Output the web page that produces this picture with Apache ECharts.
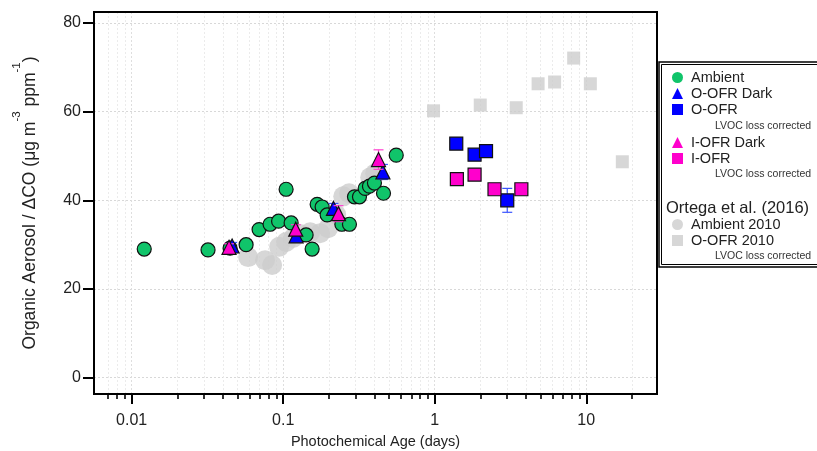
<!DOCTYPE html>
<html><head><meta charset="utf-8">
<script src="https://cdn.jsdelivr.net/npm/echarts@6/dist/echarts.min.js"></script>
<style>html,body{margin:0;padding:0;background:#fff}#c{width:817px;height:451px}</style>
</head><body><div id="c"></div>
<script>
// ---- axis ticks ----
const xMajorTicks = [0.01, 0.1, 1, 10];
const xMinorTicks = [0.007, 0.008, 0.009, 0.02, 0.03, 0.04, 0.05, 0.06, 0.07, 0.08, 0.09,
  0.2, 0.3, 0.4, 0.5, 0.6, 0.7, 0.8, 0.9, 2, 3, 4, 5, 6, 7, 8, 9, 20];
const yTicks = [0, 20, 40, 60, 80];

// ---- Ambient (this study) ----
const ambientAge = [0.0121, 0.0319, 0.0446, 0.0569, 0.0693, 0.0819, 0.0932, 0.1045, 0.1128, 0.1416,
  0.1552, 0.1675, 0.1807, 0.195, 0.2438, 0.2736, 0.2953, 0.3186, 0.3475, 0.3708, 0.40, 0.459, 0.557];
const ambientRatio = [29.0, 28.8, 29.2, 30.0, 33.4, 34.6, 35.3, 42.5, 34.9, 32.2,
  29.0, 39.1, 38.5, 36.7, 34.6, 34.6, 40.8, 40.8, 42.7, 43.2, 43.9, 41.6, 50.2];

// ---- O-OFR Dark ----
const oofrDarkAge = [0.046, 0.1217, 0.2146, 0.455];
const oofrDarkRatio = [29.7, 32.0, 38.2, 46.4];
const oofrDarkErr = [0.8, 1.0, 1.1, 1.7];

// ---- I-OFR Dark ----
const iofrDarkAge = [0.0439, 0.121, 0.2316, 0.4255];
const iofrDarkRatio = [29.4, 33.5, 37.0, 49.2];
const iofrDarkErr = [0.8, 1.0, 1.8, 2.2];

// ---- O-OFR (LVOC loss corrected) ----
const oofrAge = [1.387, 1.832, 2.18, 3.01];
const oofrRatio = [52.8, 50.3, 51.1, 40.0];
const oofrErr = [0, 0, 0, 2.7];

// ---- I-OFR (LVOC loss corrected) ----
const iofrAge = [1.40, 1.832, 2.48, 3.73];
const iofrRatio = [44.8, 45.8, 42.5, 42.5];

// ---- Ortega et al. (2016) ----
const amb2010Age = [0.0587, 0.0759, 0.0845, 0.094, 0.1045, 0.1162, 0.1294, 0.1506, 0.1753, 0.198,
  0.2236, 0.249, 0.2723, 0.375, 0.405];
const amb2010Ratio = [27.2, 26.5, 25.4, 29.5, 30.6, 31.5, 32.4, 32.8, 32.6, 33.7,
  36.8, 40.9, 41.6, 45.2, 46.1];
const oofr2010Age = [0.982, 1.997, 3.45, 4.81, 6.18, 8.26, 10.64, 17.3];
const oofr2010Ratio = [60.2, 61.5, 60.9, 66.3, 66.7, 72.1, 66.3, 48.7];

// ---- styling ----
const FONT = 'Liberation Sans, Arial, sans-serif';
const GREEN = '#10c46a', BLUE = '#0000ff', MAGENTA = '#ff00cc', GREY = '#cdcdcd';
const X_MIN = 0.00564, X_MAX = 29.3, Y_MIN = -3.7, Y_MAX = 82.5;
const GRID = { left: 94, top: 12, right: 160, bottom: 57 };
const W = 817, H = 451;

const pairs = (xs, ys) => xs.map((x, i) => [x, ys[i]]);

function errSeries(ages, vals, errs, color, z) {
  const data = [];
  ages.forEach((a, i) => { if (errs[i] > 0) data.push([a, vals[i] - errs[i], vals[i] + errs[i]]); });
  return {
    type: 'custom', z: z, silent: true, data: data,
    encode: { x: 0, y: [1, 2] },
    renderItem(params, api) {
      const x = api.value(0);
      const lo = api.coord([x, api.value(1)]);
      const hi = api.coord([x, api.value(2)]);
      const w = 5;
      const st = { stroke: color, lineWidth: 1.2 };
      return { type: 'group', children: [
        { type: 'line', shape: { x1: lo[0], y1: lo[1], x2: hi[0], y2: hi[1] }, style: st },
        { type: 'line', shape: { x1: lo[0] - w, y1: lo[1], x2: lo[0] + w, y2: lo[1] }, style: st },
        { type: 'line', shape: { x1: hi[0] - w, y1: hi[1], x2: hi[0] + w, y2: hi[1] }, style: st }
      ]};
    }
  };
}

const legendRows = [
  { name: 'Ambient', y: 78 },
  { name: 'O-OFR Dark', y: 94 },
  { name: 'O-OFR', y: 110 },
  { name: 'I-OFR Dark', y: 143 },
  { name: 'I-OFR', y: 159 },
  { name: 'Ambient 2010', y: 225 },
  { name: 'O-OFR 2010', y: 241 }
];

const chart = echarts.init(document.getElementById('c'), null, { renderer: 'canvas' });
chart.setOption({
  animation: false,
  backgroundColor: '#fff',
  textStyle: { fontFamily: FONT },
  grid: { left: GRID.left, top: GRID.top, right: GRID.right, bottom: GRID.bottom, show: false,
          outerBoundsMode: 'none', containLabel: false },
  xAxis: [{
    type: 'log', min: X_MIN, max: X_MAX, logBase: 10, position: 'bottom',
    name: 'Photochemical Age (days)', nameLocation: 'middle', nameGap: 40,
    nameTextStyle: { fontSize: 14.5, color: '#222', fontFamily: FONT },
    axisLine: { show: true, onZero: false, lineStyle: { color: '#000', width: 2 } },
    axisTick: { show: true, inside: false, length: 10, customValues: xMajorTicks, lineStyle: { color: '#000', width: 2 } },
    axisLabel: { show: true, customValues: xMajorTicks, margin: 19, fontSize: 16, color: '#222', fontFamily: FONT,
      formatter: v => String(+(+v).toPrecision(3)) },
    splitLine: { show: true, lineStyle: { color: '#dedede', type: [2, 2], width: 1 } },
    minorTick: { show: false }
  }, {
    type: 'log', min: X_MIN, max: X_MAX, logBase: 10, position: 'bottom', gridIndex: 0,
    axisLine: { show: false, onZero: false },
    axisTick: { show: true, inside: false, length: 5, customValues: xMinorTicks, lineStyle: { color: '#000', width: 1.6 } },
    axisLabel: { show: false },
    splitLine: { show: true, lineStyle: { color: '#ebebeb', type: [2, 2], width: 1 } }
  }],
  yAxis: {
    type: 'value', min: Y_MIN, max: Y_MAX,
    name: '{m|Organic Aerosol / ΔCO (μg m}{s|-3}{m| ppm}{s|-1}{m|)}',
    nameLocation: 'middle', nameGap: 55,
    nameTextStyle: { fontSize: 17.5, color: '#222', fontFamily: FONT,
      rich: { m: { fontSize: 17.5, lineHeight: 28, verticalAlign: 'bottom', color: '#222', fontFamily: FONT },
              s: { fontSize: 11.5, verticalAlign: 'top', color: '#222', fontFamily: FONT } } },
    axisLine: { show: true, onZero: false, lineStyle: { color: '#000', width: 2 } },
    axisTick: { show: true, length: 11, customValues: yTicks, lineStyle: { color: '#000', width: 2 } },
    axisLabel: { show: true, customValues: yTicks, margin: 13, fontSize: 16, color: '#222', fontFamily: FONT },
    splitLine: { show: true, lineStyle: { color: '#d8d8d8', type: [2, 2], width: 1 } }
  },
  legend: legendRows.map(r => ({
    data: [r.name], left: 672, top: r.y - 8, orient: 'vertical', padding: 0, itemGap: 0,
    itemWidth: 11, itemHeight: 11, selectedMode: false,
    itemStyle: { borderWidth: 0 },
    textStyle: { fontSize: 14.5, color: '#222', fontFamily: FONT, padding: [0, 0, 0, 3] }
  })),
  graphic: [
    { type: 'rect', z: 60, silent: true,
      shape: { x: GRID.left, y: GRID.top, width: W - GRID.left - GRID.right, height: H - GRID.top - GRID.bottom },
      style: { fill: 'none', stroke: '#000', lineWidth: 2 } },
    { type: 'rect', shape: { x: 659, y: 62, width: 170, height: 205 }, style: { fill: 'none', stroke: '#000', lineWidth: 1.5 }, z: 100 },
    { type: 'rect', shape: { x: 661.5, y: 64.5, width: 170, height: 200 }, style: { fill: 'none', stroke: '#000', lineWidth: 1 }, z: 100 },
    { type: 'text', x: 715, y: 126, style: { text: 'LVOC loss corrected', fontSize: 10.5, fill: '#333', fontFamily: FONT, verticalAlign: 'middle' }, z: 100 },
    { type: 'text', x: 715, y: 174, style: { text: 'LVOC loss corrected', fontSize: 10.5, fill: '#333', fontFamily: FONT, verticalAlign: 'middle' }, z: 100 },
    { type: 'text', x: 666, y: 208, style: { text: 'Ortega et al. (2016)', fontSize: 16.5, fill: '#222', fontFamily: FONT, verticalAlign: 'middle' }, z: 100 },
    { type: 'text', x: 715, y: 256, style: { text: 'LVOC loss corrected', fontSize: 10.5, fill: '#333', fontFamily: FONT, verticalAlign: 'middle' }, z: 100 }
  ],
  series: [
    { name: 'Ambient 2010', type: 'scatter', symbol: 'circle', symbolSize: 20, z: 2,
      itemStyle: { color: GREY, borderWidth: 0 }, data: pairs(amb2010Age, amb2010Ratio) },
    { name: 'O-OFR 2010', type: 'scatter', symbol: 'rect', symbolSize: 13, z: 2,
      itemStyle: { color: GREY, borderWidth: 0 }, data: pairs(oofr2010Age, oofr2010Ratio) },
    { name: 'Ambient', type: 'scatter', symbol: 'circle', symbolSize: 14, z: 3,
      itemStyle: { color: GREEN, borderColor: '#111', borderWidth: 1.2, opacity: 1 }, data: pairs(ambientAge, ambientRatio) },
    errSeries(oofrDarkAge, oofrDarkRatio, oofrDarkErr, '#3b55ff', 4),
    { name: 'O-OFR Dark', type: 'scatter', symbol: 'triangle', symbolSize: 14, z: 5,
      itemStyle: { color: BLUE, borderColor: '#111', borderWidth: 1.2, opacity: 1 }, data: pairs(oofrDarkAge, oofrDarkRatio) },
    errSeries(iofrDarkAge, iofrDarkRatio, iofrDarkErr, '#ff3fd0', 6),
    { name: 'I-OFR Dark', type: 'scatter', symbol: 'triangle', symbolSize: 14, z: 7,
      itemStyle: { color: MAGENTA, borderColor: '#111', borderWidth: 1.2, opacity: 1 }, data: pairs(iofrDarkAge, iofrDarkRatio) },
    errSeries(oofrAge, oofrRatio, oofrErr, '#3b55ff', 4),
    { name: 'O-OFR', type: 'scatter', symbol: 'rect', symbolSize: 13, z: 5,
      itemStyle: { color: BLUE, borderColor: '#111', borderWidth: 1.2, opacity: 1 }, data: pairs(oofrAge, oofrRatio) },
    { name: 'I-OFR', type: 'scatter', symbol: 'rect', symbolSize: 13, z: 7,
      itemStyle: { color: MAGENTA, borderColor: '#111', borderWidth: 1.2, opacity: 1 }, data: pairs(iofrAge, iofrRatio) }
  ]
});
</script></body></html>
